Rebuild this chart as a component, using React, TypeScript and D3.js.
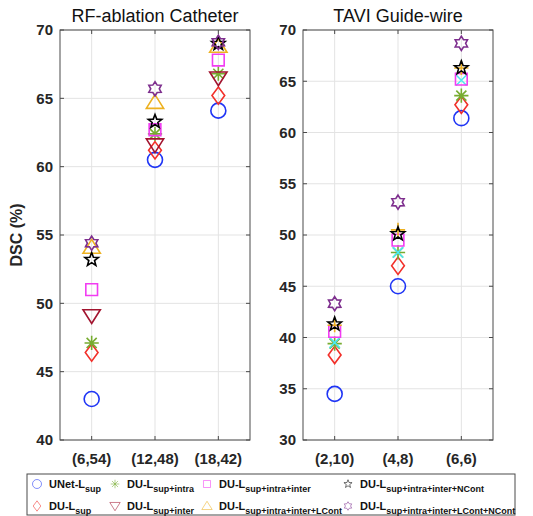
import React from "react";
import * as d3 from "d3";

const leftCategories = ["(6,54)", "(12,48)", "(18,42)"];
const rightCategories = ["(2,10)", "(4,8)", "(6,6)"];
const leftTicks = [40, 45, 50, 55, 60, 65, 70];
const rightTicks = [30, 35, 40, 45, 50, 55, 60, 65, 70];

const seriesNames = [
  ["UNet-L", "sup"],
  ["DU-L", "sup"],
  ["DU-L", "sup+intra"],
  ["DU-L", "sup+inter"],
  ["DU-L", "sup+intra+inter"],
  ["DU-L", "sup+intra+inter+LCont"],
  ["DU-L", "sup+intra+inter+NCont"],
  ["DU-L", "sup+intra+inter+LCont+NCont"],
];

const leftUNet = [43.0, 60.5, 64.1];
const leftDUSup = [46.4, 61.2, 65.2];
const leftIntra = [47.1, 62.4, 66.8];
const leftInter = [49.1, 61.6, 66.5];
const leftIntraInter = [51.0, 62.7, 67.8];
const leftLCont = [54.1, 64.7, 68.8];
const leftNCont = [53.2, 63.3, 69.0];
const leftBoth = [54.4, 65.7, 69.1];

const rightUNet = [34.5, 45.0, 61.4];
const rightDUSup = [38.3, 47.0, 62.7];
const rightIntra = [39.4, 48.3, 63.6];
const rightInter = [39.5, 48.3, 65.1];
const rightIntraInter = [40.6, 49.5, 65.2];
const rightLCont = [41.2, 50.5, 66.3];
const rightNCont = [41.3, 50.1, 66.3];
const rightBoth = [43.3, 53.2, 68.7];

const colors = ["#1f35f5", "#f2302a", "#77AC30", "#A2142F", "#f23cf2", "#EDB120", "#000000", "#7E2F8E"];
const leftShapes = ["circle", "diamond", "asterisk", "tridown", "square", "triup", "star", "hexagram"];
const rightShapes = ["circle", "diamond", "asterisk", "times", "square", "plus", "star", "hexagram"];
const rightColors = ["#1f35f5", "#f2302a", "#77AC30", "#4DE8EE", "#f23cf2", "#EDB120", "#000000", "#7E2F8E"];

function markerPath(shape: string, s: number): string {
  const p = d3.path();
  if (shape === "circle") {
    p.moveTo(s, 0);
    p.arc(0, 0, s, 0, Math.PI * 2);
  } else if (shape === "diamond") {
    const w = s * 0.85, h = s * 1.15;
    p.moveTo(0, -h); p.lineTo(w, 0); p.lineTo(0, h); p.lineTo(-w, 0); p.closePath();
  } else if (shape === "square") {
    const a = s * 0.78;
    p.rect(-a, -a, 2 * a, 2 * a);
  } else if (shape === "triup" || shape === "tridown") {
    const k = shape === "triup" ? 1 : -1;
    const h = s * 1.05;
    p.moveTo(0, -h * k); p.lineTo(h * 1.1, h * 0.75 * k); p.lineTo(-h * 1.1, h * 0.75 * k); p.closePath();
  } else if (shape === "asterisk") {
    const r = s * 0.95;
    for (let i = 0; i < 4; i++) {
      const a = (i * Math.PI) / 4;
      p.moveTo(-r * Math.cos(a), -r * Math.sin(a));
      p.lineTo(r * Math.cos(a), r * Math.sin(a));
    }
  } else if (shape === "times") {
    const r = s * 0.7;
    p.moveTo(-r, -r); p.lineTo(r, r); p.moveTo(-r, r); p.lineTo(r, -r);
  } else if (shape === "plus") {
    const r = s * 0.95;
    p.moveTo(-r, 0); p.lineTo(r, 0); p.moveTo(0, -r); p.lineTo(0, r);
  } else if (shape === "star") {
    const R = s * 0.95, r = R * 0.42;
    for (let i = 0; i < 10; i++) {
      const a = -Math.PI / 2 + (i * Math.PI) / 5;
      const rr = i % 2 === 0 ? R : r;
      if (i === 0) p.moveTo(rr * Math.cos(a), rr * Math.sin(a));
      else p.lineTo(rr * Math.cos(a), rr * Math.sin(a));
    }
    p.closePath();
  } else if (shape === "hexagram") {
    const R = s * 0.95, r = R * 0.6;
    for (let i = 0; i < 12; i++) {
      const a = -Math.PI / 2 + (i * Math.PI) / 6;
      const rr = i % 2 === 0 ? R : r;
      if (i === 0) p.moveTo(rr * Math.cos(a), rr * Math.sin(a));
      else p.lineTo(rr * Math.cos(a), rr * Math.sin(a));
    }
    p.closePath();
  }
  return p.toString();
}

const FONT = "'Liberation Sans', Arial, Helvetica, sans-serif";

function Panel(props: {
  x0: number; x1: number; y0: number; y1: number;
  cats: string[]; ticks: number[]; domain: [number, number];
  title: string; series: number[][]; shapes: string[]; cols: string[];
}) {
  const { x0, x1, y0, y1, cats, ticks, domain, title, series, shapes, cols } = props;
  const x = d3.scaleLinear().domain([0.5, cats.length + 0.5]).range([x0, x1]);
  const y = d3.scaleLinear().domain(domain).range([y1, y0]);
  const frame = "#4a4a4a";
  return (
    <g>
      {ticks.map((t) => (
        <line key={"gy" + t} x1={x0} x2={x1} y1={y(t)} y2={y(t)} stroke="#e3e3e3" strokeWidth={1} />
      ))}
      {cats.map((c, i) => (
        <line key={"gx" + c} x1={x(i + 1)} x2={x(i + 1)} y1={y0} y2={y1} stroke="#e3e3e3" strokeWidth={1} />
      ))}
      {ticks.map((t) => (
        <g key={"ty" + t}>
          <line x1={x0} x2={x0 + 4} y1={y(t)} y2={y(t)} stroke={frame} />
          <line x1={x1} x2={x1 - 4} y1={y(t)} y2={y(t)} stroke={frame} />
          <text x={x0 - 7} y={y(t)} dy="0.36em" textAnchor="end" fontFamily={FONT} fontWeight="bold" fontSize={15} fill="#262626">{t}</text>
        </g>
      ))}
      {cats.map((c, i) => (
        <g key={"tx" + c}>
          <line x1={x(i + 1)} x2={x(i + 1)} y1={y1} y2={y1 - 4} stroke={frame} />
          <line x1={x(i + 1)} x2={x(i + 1)} y1={y0} y2={y0 + 4} stroke={frame} />
          <text x={x(i + 1)} y={y1 + 24} textAnchor="middle" fontFamily={FONT} fontWeight="bold" fontSize={15} fill="#262626">{c}</text>
        </g>
      ))}
      <rect x={x0} y={y0} width={x1 - x0} height={y1 - y0} fill="none" stroke={frame} strokeWidth={1} />
      <text x={(x0 + x1) / 2} y={y0 - 8} textAnchor="middle" fontFamily={FONT} fontSize={18} fill="#111">{title}</text>
      {series.map((vals, si) =>
        vals.map((v, ci) => (
          <path
            key={si + "-" + ci}
            d={markerPath(shapes[si], 7.5)}
            transform={`translate(${x(ci + 1)},${y(v)})`}
            fill="none"
            stroke={cols[si]}
            strokeWidth={1.6}
            strokeLinejoin="miter"
          />
        ))
      )}
    </g>
  );
}

export default function App() {
  const leftSeries = [leftUNet, leftDUSup, leftIntra, leftInter, leftIntraInter, leftLCont, leftNCont, leftBoth];
  const rightSeries = [rightUNet, rightDUSup, rightIntra, rightInter, rightIntraInter, rightLCont, rightNCont, rightBoth];
  const legendCols = [37, 115, 207, 348];
  const legendRows = [484, 506];
  return (
    <svg width={533} height={516} style={{ position: "absolute", left: 0, top: 0 }}>
      <rect width={533} height={516} fill="#fff" />
      <Panel x0={60} x1={250} y0={30} y1={440} cats={leftCategories} ticks={leftTicks} domain={[40, 70]}
        title="RF-ablation Catheter" series={leftSeries} shapes={leftShapes} cols={colors} />
      <Panel x0={303} x1={493} y0={30} y1={440} cats={rightCategories} ticks={rightTicks} domain={[30, 70]}
        title="TAVI Guide-wire" series={rightSeries} shapes={rightShapes} cols={rightColors} />
      <text transform="translate(22,235) rotate(-90)" textAnchor="middle" fontFamily={FONT} fontWeight="bold" fontSize={16} fill="#262626">DSC (%)</text>
      <rect x={27} y={474} width={488} height={41} fill="#fff" stroke="#4a4a4a" strokeWidth={1} />
      {seriesNames.map((nm, i) => {
        const col = Math.floor(i / 2);
        const row = i % 2;
        const mx = legendCols[col];
        const my = legendRows[row];
        return (
          <g key={"lg" + i}>
            <path d={markerPath(leftShapes[i], 4.5)} transform={`translate(${mx},${my})`} fill="none" stroke={colors[i]} strokeOpacity={0.55} strokeWidth={1} />
            <text x={mx + 12} y={my + 4} fontFamily={FONT} fontWeight="bold" fontSize={11} fill="#111">
              {nm[0]}
              <tspan dy={3.5} fontSize={9}>{nm[1]}</tspan>
            </text>
          </g>
        );
      })}
    </svg>
  );
}
